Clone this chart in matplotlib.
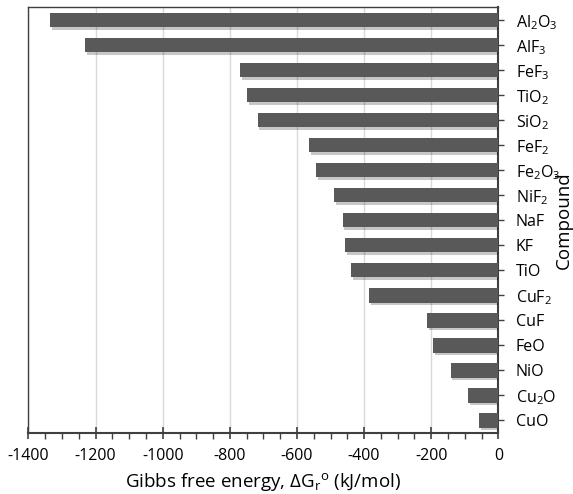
import matplotlib
matplotlib.use("Agg")
import matplotlib.pyplot as plt
import matplotlib.patheffects as pe
from matplotlib.ticker import MultipleLocator
import numpy as np

plt.rcParams["font.family"] = ["Open Sans", "DejaVu Sans"]
plt.rcParams["axes.unicode_minus"] = False
# subscripts in the same face as the labels
plt.rcParams["mathtext.default"] = "regular"

compounds = [
    "Al$_2$O$_3$", "AlF$_3$", "FeF$_3$", "TiO$_2$", "SiO$_2$", "FeF$_2$",
    "Fe$_2$O$_3$", "NiF$_2$", "NaF", "KF", "TiO", "CuF$_2$", "CuF",
    "FeO", "NiO", "Cu$_2$O", "CuO",
]
gibbs = [
    -1336, -1231, -770, -749, -717, -564, -542, -490, -464, -457,
    -439, -384, -213, -195, -142, -89, -58,
]

fig = plt.figure(figsize=(5.73, 4.94), dpi=100)
ax = fig.add_axes([0.0497, 0.1235, 0.82, 0.8617])

y = np.arange(len(compounds))
bars = ax.barh(y, gibbs, height=0.58, color="#595959", zorder=3)
for b in bars:
    b.set_path_effects([
        pe.SimplePatchShadow(offset=(1.2, -1.8), shadow_rgbFace="#000000", alpha=0.22),
        pe.Normal(),
    ])

ax.set_xlim(-1400, 0)
ax.set_ylim(len(compounds) - 0.5, -0.5)

ax.xaxis.set_major_locator(MultipleLocator(200))
ax.xaxis.set_minor_locator(MultipleLocator(50))
ax.grid(axis="x", which="major", color="#d9d9d9", linewidth=1.0, zorder=0)

ax.yaxis.tick_right()
ax.yaxis.set_label_position("right")
ax.set_yticks(y)
ax.set_yticklabels(compounds)

for side in ["left", "top", "right", "bottom"]:
    ax.spines[side].set_color("#404040")
    ax.spines[side].set_linewidth(1.0)
ax.spines["bottom"].set_linewidth(1.5)
ax.spines["right"].set_linewidth(1.5)

ax.tick_params(axis="x", which="major", direction="inout", length=8, width=1.2,
               color="#404040", labelsize=11.5, pad=7)
ax.tick_params(axis="x", which="minor", direction="out", length=4, width=1.0,
               color="#404040")
ax.tick_params(axis="y", which="major", direction="out", length=4, width=1.0,
               color="#404040", labelsize=11.5, pad=8.5)

ax.set_xlabel("Gibbs free energy, $\\Delta$G$_r$$^o$ (kJ/mol)", fontsize=13.5, labelpad=5)
ax.set_ylabel("Compound", fontsize=13.5)
ax.yaxis.set_label_coords(1.14, 0.5)
ax.yaxis.label.set_va("center")

fig.savefig("out.png", dpi=100)
